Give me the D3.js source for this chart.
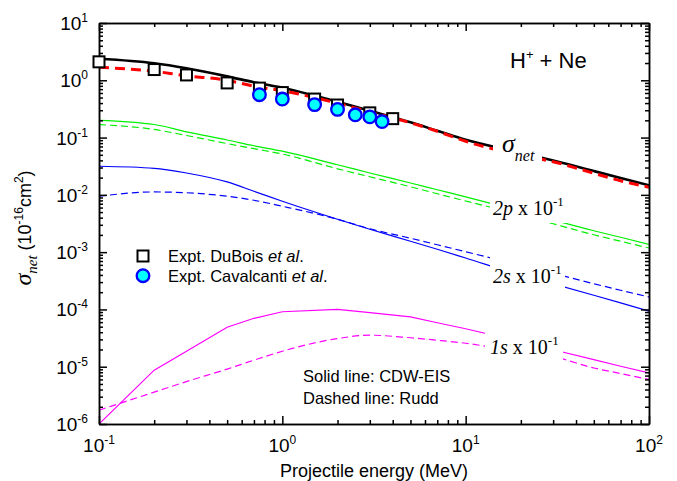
<!DOCTYPE html>
<html><head><meta charset="utf-8">
<script src="https://cdn.jsdelivr.net/npm/d3@7"></script>
<style>
body{margin:0;background:#fff;}
svg{display:block;font-family:"Liberation Sans",Arial,sans-serif;}
</style></head>
<body>
<svg id="c" width="677" height="481"></svg>
<script>
// ---- data ----
const energy   = [0.1,0.2,0.3,0.5,0.7,1,2,3,5,7,10,20,30,50,70,100];
const netCDW   = [2.37,1.98,1.62,1.17,0.923,0.74,0.421,0.294,0.185,0.1315,0.0916,0.0543,0.0397,0.026,0.0197,0.01472];
const netRudd  = [1.686,1.436,1.198,1.0,0.786,0.656,0.397,0.282,0.181,0.1288,0.0861,0.0491,0.0378,0.0238,0.0176,0.01358];
const p2CDW    = [0.2,0.169,0.126,0.0908,0.0719,0.0578,0.0335,0.0241,0.0161,0.01228,0.00923,0.00517,0.00363,0.00236,0.00182,0.00137];
const p2Rudd   = [0.1686,0.1385,0.1088,0.0786,0.064,0.0517,0.0285,0.0207,0.01385,0.01045,0.0078,0.0045,0.00313,0.00201,0.00155,0.00118];
const s2CDW    = [0.0316,0.0291,0.0241,0.0168,0.01156,0.00773,0.00375,0.00251,0.00155,0.001124,0.000789,0.000395,0.000279,0.000177,0.00013,0.0000931];
const s2Rudd   = [0.00946,0.01124,0.01088,0.00946,0.00805,0.00632,0.00375,0.00256,0.00175,0.001346,0.001016,0.00059,0.000428,0.000281,0.000216,0.000165];
const s1CDW    = [1e-6,8.7e-6,1.86e-5,4.9e-5,7.0e-5,9.1e-5,1.0e-4,8.8e-5,7.4e-5,5.86e-5,4.6e-5,2.73e-5,1.98e-5,1.33e-5,1.02e-5,7.8e-6];
const s1Rudd   = [1.74e-6,3.6e-6,5.5e-6,9.1e-6,1.3e-5,1.86e-5,3.1e-5,3.55e-5,3.2e-5,2.9e-5,2.57e-5,1.78e-5,1.5e-5,9.5e-6,7.6e-6,6e-6];
const duboisE  = [0.1,0.2,0.3,0.5,0.75,1,1.5,2,3,4];
const duboisV  = [2.1,1.54,1.24,0.90,0.73,0.61,0.47,0.37,0.27,0.214];
const cavalE   = [0.75,1,1.5,2,2.5,3,3.5];
const cavalV   = [0.56,0.47,0.376,0.31,0.25,0.23,0.19];
const xMajor   = [0.1,1,10,100];
const xMajorExp= ["-1","0","1","2"];
const yMajor   = [10,1,0.1,0.01,0.001,1e-4,1e-5,1e-6];
const yMajorExp= ["1","0","-1","-2","-3","-4","-5","-6"];

// ---- layout ----
const L=99, R=649, T=23, B=424;
const svg=d3.select("#c");
const x=d3.scaleLog().domain([0.1,100]).range([L,R]);
const y=d3.scaleLog().domain([1e-6,10]).range([B,T]);

function minors(lo,hi){const a=[];for(let d=lo;d<hi;d*=10)for(let k=2;k<=9;k++)a.push(d*k);return a;}
const xMinor=minors(0.1,100), yMinor=minors(1e-6,10);

// ---- series ----
const series=[
 {v:netCDW, c:"#000", w:2.6, dash:null, curve:d3.curveMonotoneX},
 {v:netRudd,c:"#ff0000", w:3, dash:"10,6", curve:d3.curveMonotoneX},
 {v:p2CDW, c:"#00f000", w:1.2, dash:null, curve:d3.curveMonotoneX},
 {v:p2Rudd,c:"#00f000", w:1.2, dash:"7,4", curve:d3.curveMonotoneX},
 {v:s2CDW, c:"#0000ff", w:1.2, dash:null, curve:d3.curveMonotoneX},
 {v:s2Rudd,c:"#0000ff", w:1.2, dash:"7,4", curve:d3.curveMonotoneX},
 {v:s1CDW, c:"#ff00ff", w:1.2, dash:null, curve:d3.curveLinear},
 {v:s1Rudd,c:"#ff00ff", w:1.2, dash:"7,4", curve:d3.curveMonotoneX}
];
svg.append("defs").append("clipPath").attr("id","pc").append("rect")
  .attr("x",L).attr("y",T).attr("width",R-L).attr("height",B-T);
const g=svg.append("g").attr("clip-path","url(#pc)");
series.forEach(s=>{
  const line=d3.line().x((d,i)=>x(energy[i])).y(d=>y(d)).curve(s.curve);
  g.append("path").attr("d",line(s.v)).attr("fill","none").attr("stroke",s.c)
   .attr("stroke-width",s.w).attr("stroke-dasharray",s.dash);
});

// white masks behind curve labels
const masks=[[493,135,49,33],[490,190,76,33],[490,250,75,38.5],[485,325,78,37]];
masks.forEach(m=>svg.append("rect").attr("x",m[0]).attr("y",m[1]).attr("width",m[2]).attr("height",m[3]).attr("fill","#fff"));

// ---- axes ----
function ax(gen,tr,vals,size){
  const a=svg.append("g").attr("transform",tr)
   .call(gen.tickValues(vals).tickSizeInner(size).tickSizeOuter(0).tickFormat(""));
  a.selectAll("path,line").attr("stroke","#000").attr("stroke-width",1.5);
  return a;
}
ax(d3.axisBottom(x),`translate(0,${B})`,xMajor,-8);
ax(d3.axisBottom(x),`translate(0,${B})`,xMinor,-4);
ax(d3.axisTop(x),`translate(0,${T})`,xMajor,-8);
ax(d3.axisTop(x),`translate(0,${T})`,xMinor,-4);
ax(d3.axisLeft(y),`translate(${L},0)`,yMajor,-8);
ax(d3.axisLeft(y),`translate(${L},0)`,yMinor,-4);
ax(d3.axisRight(y),`translate(${R},0)`,yMajor,-8);
ax(d3.axisRight(y),`translate(${R},0)`,yMinor,-4);

// tick labels
xMajor.forEach((v,i)=>{
  const t=svg.append("text").attr("x",x(v)).attr("y",452).attr("text-anchor","middle").attr("font-size",19);
  t.append("tspan").text("10");
  t.append("tspan").attr("font-size",12).attr("dy",-8).text(xMajorExp[i]);
});
yMajor.forEach((v,i)=>{
  const t=svg.append("text").attr("x",88).attr("y",y(v)+7).attr("text-anchor","end").attr("font-size",19);
  t.append("tspan").text("10");
  t.append("tspan").attr("font-size",12).attr("dy",-8).text(yMajorExp[i]);
});

// axis titles
svg.append("text").attr("x",374).attr("y",477).attr("text-anchor","middle").attr("font-size",18).text("Projectile energy (MeV)");
const serif="Liberation Serif, Times New Roman, serif";
const yt=svg.append("text").attr("transform","translate(31,228) rotate(-90)").attr("text-anchor","middle").attr("font-size",18);
yt.append("tspan").attr("font-family",serif).attr("font-style","italic").attr("font-size",24).text("σ");
yt.append("tspan").attr("font-family",serif).attr("font-style","italic").attr("font-size",15).attr("dy",6).text("net");
yt.append("tspan").attr("dy",-6).text(" (10");
yt.append("tspan").attr("font-size",12).attr("dy",-8).text("-16");
yt.append("tspan").attr("dy",8).text("cm");
yt.append("tspan").attr("font-size",12).attr("dy",-8).text("2");
yt.append("tspan").attr("dy",8).text(")");

// ---- markers ----
svg.append("g").selectAll("rect").data(duboisE).join("rect")
  .attr("x",(d)=>x(d)-5.5).attr("y",(d,i)=>y(duboisV[i])-5.5).attr("width",11).attr("height",11)
  .attr("fill","#fff").attr("stroke","#000").attr("stroke-width",2);
svg.append("g").selectAll("circle").data(cavalE).join("circle")
  .attr("cx",d=>x(d)).attr("cy",(d,i)=>y(cavalV[i])).attr("r",6.3)
  .attr("fill","#00ffff").attr("stroke","#0000ff").attr("stroke-width",2.3);

// ---- annotations ----
const h=svg.append("text").attr("x",510).attr("y",68).attr("font-size",22);
h.append("tspan").text("H");
h.append("tspan").attr("font-size",13).attr("dy",-9).text("+");
h.append("tspan").attr("dy",9).text(" + Ne");

const sn=svg.append("text").attr("x",502).attr("y",152).attr("font-family",serif).attr("font-style","italic").attr("font-size",26);
sn.append("tspan").text("σ");
sn.append("tspan").attr("font-size",16).attr("dy",9).text("net");

function orbLabel(xp,yp,orb){
  const t=svg.append("text").attr("x",xp).attr("y",yp).attr("font-family",serif).attr("font-size",20);
  t.append("tspan").attr("font-style","italic").text(orb);
  t.append("tspan").text(" x 10");
  t.append("tspan").attr("font-size",13).attr("dy",-9).text("-1");
}
orbLabel(493,215,"2p");
orbLabel(493,283,"2s");
orbLabel(490,354,"1s");

// legend
svg.append("rect").attr("x",143-5.5).attr("y",256-5.5).attr("width",11).attr("height",11)
  .attr("fill","#fff").attr("stroke","#000").attr("stroke-width",2);
const l1=svg.append("text").attr("x",168).attr("y",262).attr("font-size",16.5);
l1.append("tspan").text("Expt. DuBois ");
l1.append("tspan").attr("font-style","italic").text("et al");
l1.append("tspan").text(".");
svg.append("circle").attr("cx",143).attr("cy",275.7).attr("r",6.3)
  .attr("fill","#00ffff").attr("stroke","#0000ff").attr("stroke-width",2.3);
const l2=svg.append("text").attr("x",168).attr("y",282).attr("font-size",16.5);
l2.append("tspan").text("Expt. Cavalcanti ");
l2.append("tspan").attr("font-style","italic").text("et al");
l2.append("tspan").text(".");

svg.append("text").attr("x",303).attr("y",382).attr("font-size",16.5).text("Solid line: CDW-EIS");
svg.append("text").attr("x",303).attr("y",404).attr("font-size",16.5).text("Dashed line: Rudd");
</script>
</body></html>
